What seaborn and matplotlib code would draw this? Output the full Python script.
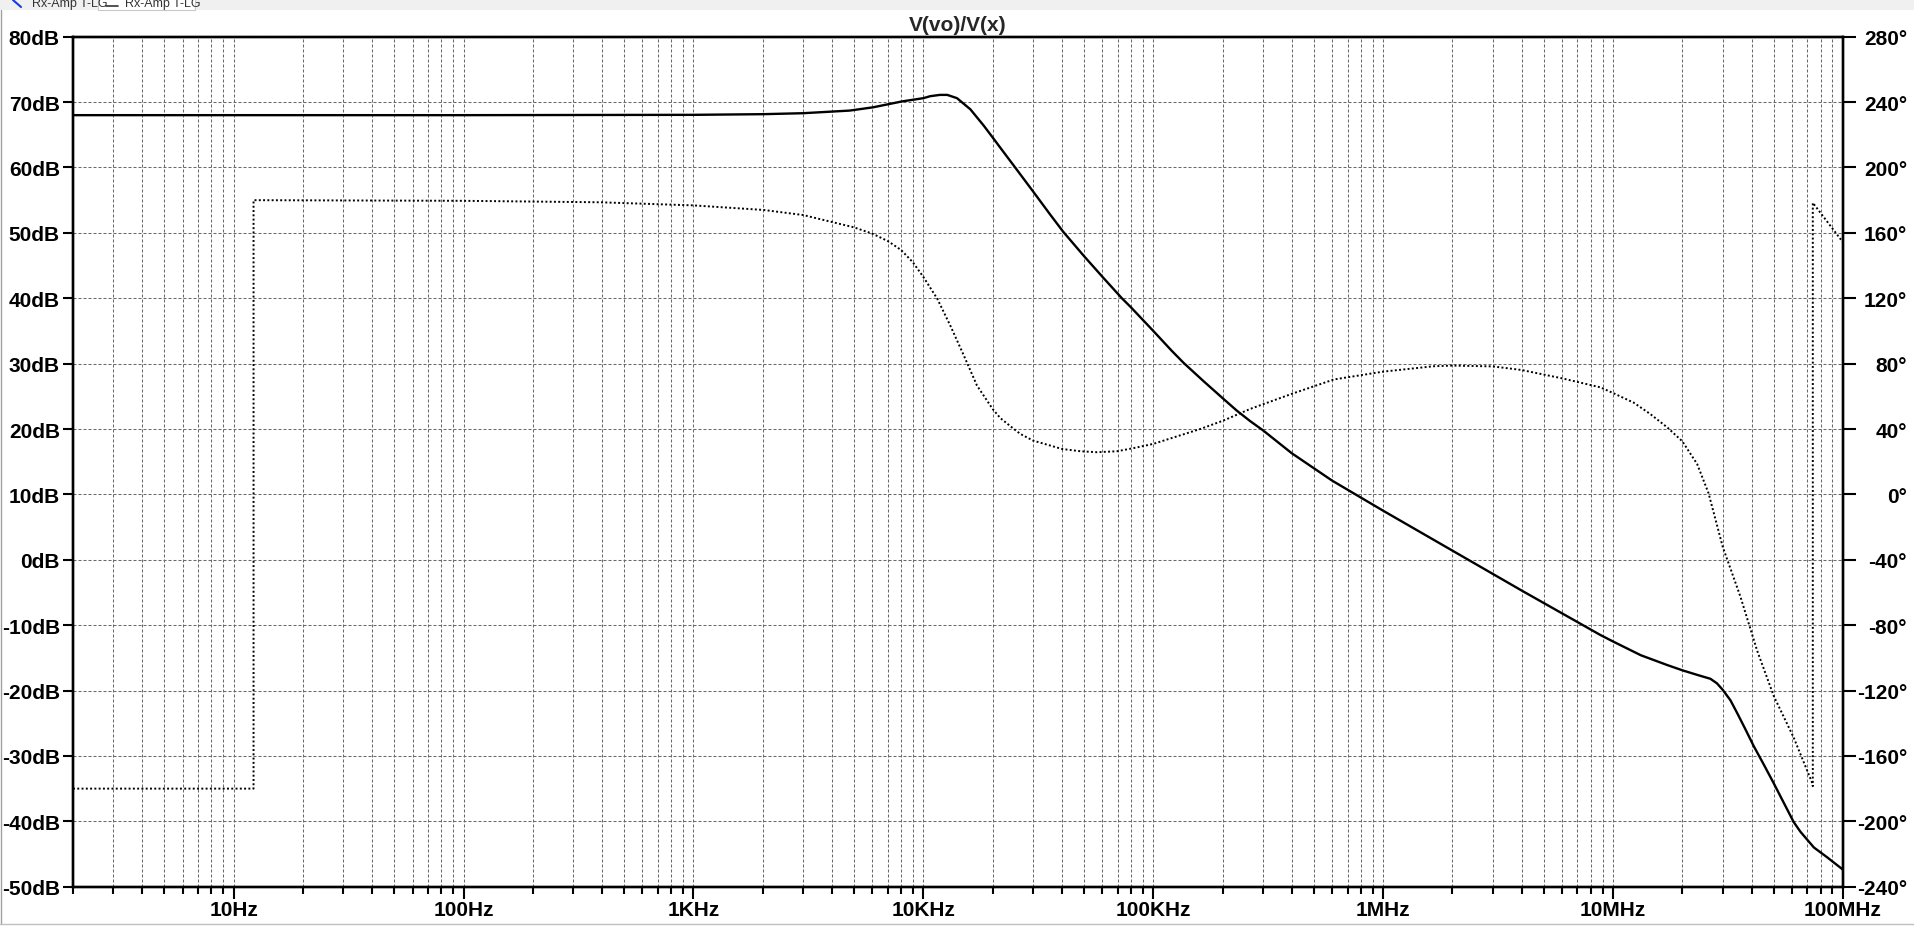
import matplotlib
matplotlib.use('Agg')
import matplotlib.pyplot as plt
import matplotlib.ticker as mticker
import pandas as pd
import seaborn as sns
from matplotlib.patches import Rectangle
from matplotlib.lines import Line2D

# magnitude of V(vo)/V(x)
mag_freq = [2, 100, 1000, 2000, 3000, 4780, 6040, 8070, 10000, 10700, 11800, 12700,
            14000, 16000, 18300, 20000, 22000, 24700, 29900, 35600, 40500, 49800,
            60000, 73000, 80000, 100000, 120000, 135600, 165600, 202000, 231000, 264000,
            300000, 400000, 600000, 1e6, 2e6, 4e6, 8.8e6, 1e7, 1.32e7, 1.72e7, 2e7, 2.32e7,
            2.65e7, 2.83e7, 3e7, 3.24e7, 3.46e7, 3.76e7, 4.09e7, 4.52e7, 5e7, 6.1e7,
            6.53e7, 7.47e7, 8.53e7, 1e8]
mag_db = [68.0, 68.0, 68.05, 68.15, 68.3, 68.7, 69.2, 70.1, 70.6, 70.9, 71.1, 71.1,
          70.6, 68.9, 66.4, 64.6, 62.65, 60.3, 56.4, 52.8, 50.2, 46.5,
          43.3, 40.0, 38.6, 35.0, 32.0, 30.1, 27.3, 24.6, 22.8, 21.2,
          19.8, 16.3, 12.1, 7.5, 1.4, -4.7, -11.5, -12.5, -14.6, -16.1, -16.9, -17.6,
          -18.2, -18.9, -19.9, -21.5, -23.4, -25.9, -28.5, -31.3, -34.2, -40.1,
          -41.6, -44.0, -45.5, -47.4]

# phase (degrees), with the two wrap-around jumps
phase_freq = [2, 12.2, 12.2, 20, 100, 394, 1000, 2020, 3000, 4980, 6000, 7000, 8000,
              9000, 10000, 11500, 13100, 15000, 17100, 20000, 21600, 24200, 26400,
              30000, 35600, 40000, 48200, 57000, 69700, 82000, 100000, 160000,
              202000, 264000, 400000, 610000, 1e6, 1.66e6, 2e6, 3e6, 4e6, 6e6,
              8.8e6, 1e7, 1.23e7, 1.45e7, 1.72e7, 2e7, 2.32e7, 2.6e7, 3e7, 3.58e7,
              4.23e7, 5e7, 6.1e7, 7.35e7, 7.39e7, 7.39e7, 1e8]
phase_deg = [-180, -180, 180, 179.9, 179.6, 178.7, 176.8, 174.0, 170.9, 163.4, 159.5, 155.0, 149.5,
             142.0, 133.0, 119.6, 103.2, 84.9, 66.6, 52.3, 46.7, 41.1, 37.0,
             32.9, 29.9, 27.8, 26.4, 25.8, 26.4, 28.3, 30.9, 40.0,
             45.2, 52.3, 61.5, 70.3, 75.1, 78.4, 78.8, 78.3, 76.1, 71.0,
             65.5, 62.0, 56.1, 49.2, 41.0, 32.5, 18.6, 0.8, -32.2, -62.6,
             -95.5, -123.4, -148.7, -176.6, -178.5, 178.4, 154.2]

xtick_values = [10, 100, 1e3, 1e4, 1e5, 1e6, 1e7, 1e8]
xtick_labels = ['10Hz', '100Hz', '1KHz', '10KHz', '100KHz', '1MHz', '10MHz', '100MHz']
db_ticks = list(range(-50, 81, 10))
deg_ticks = list(range(-240, 281, 40))

df_mag = pd.DataFrame({'freq': mag_freq, 'db': mag_db})
df_phase = pd.DataFrame({'freq': phase_freq, 'deg': phase_deg})

sns.set_theme(style='white')
plt.rcParams['font.family'] = ['Liberation Sans', 'DejaVu Sans']
plt.rcParams['font.weight'] = 'bold'

FS = 15
W, H = 1915, 928
fig = plt.figure(figsize=(W / 100, H / 100), dpi=100)
fig.patch.set_facecolor('white')
ax = fig.add_axes([73 / W, 40.3 / H, 1770 / W, 850 / H])
ax2 = ax.twinx()

ax.set_xscale('log')
ax.set_xlim(2, 1e8)
ax.set_ylim(-50, 80)
ax2.set_ylim(-240, 280)

sns.lineplot(data=df_mag, x='freq', y='db', ax=ax, color='black', linewidth=1.7,
             estimator=None, sort=False)
sns.lineplot(data=df_phase, x='freq', y='deg', ax=ax2, color='black', linewidth=1.4,
             estimator=None, sort=False, linestyle=(0, (1, 1.2)))

# grid
grid_kw = dict(color='#6a6a6a', linewidth=0.75, linestyle=(0, (2.9, 1.9)))
ax.xaxis.set_major_locator(mticker.FixedLocator(xtick_values))
ax.xaxis.set_major_formatter(mticker.FixedFormatter(xtick_labels))
ax.xaxis.set_minor_locator(mticker.LogLocator(base=10, subs=range(2, 10), numticks=20))
ax.xaxis.set_minor_formatter(mticker.NullFormatter())
ax.grid(True, which='both', axis='x', **grid_kw)
ax.grid(True, which='major', axis='y', **grid_kw)
ax.set_axisbelow(True)

ax.yaxis.set_major_locator(mticker.FixedLocator(db_ticks))
ax.set_yticklabels([f'{v}dB' for v in db_ticks])
ax2.yaxis.set_major_locator(mticker.FixedLocator(deg_ticks))
ax2.set_yticklabels([f'{v}°' for v in deg_ticks])

ax.set_xlabel('')
ax.set_ylabel('')
ax2.set_ylabel('')

ax.tick_params(axis='x', which='major', bottom=True, top=False, direction='out', length=8.9,
               width=1.5, pad=1, labelsize=FS, color='black', labelcolor='black')
ax.tick_params(axis='x', which='minor', bottom=True, top=False, direction='out', length=5,
               width=1.5, color='black')
ax.tick_params(axis='y', left=True, right=False, direction='out', length=7.2, width=1.5,
               pad=2.2, labelsize=FS, color='black', labelcolor='black')
ax2.tick_params(axis='y', left=False, right=True, direction='out', length=9.1, width=1.5,
                pad=36.9, labelsize=FS, color='black', labelcolor='black')
for lab in ax2.get_yticklabels():
    lab.set_horizontalalignment('right')
for lab in ax.get_xticklabels() + ax.get_yticklabels() + ax2.get_yticklabels():
    lab.set_fontweight('bold')

for a in (ax, ax2):
    for s in a.spines.values():
        s.set_color('black')
        s.set_linewidth(1.7)

ax.set_title('V(vo)/V(x)', fontsize=FS, fontweight='bold', pad=4.8)

# window chrome: tab strip and borders
fig.patches.append(Rectangle((0, 1 - 11 / H), 1, 11 / H, transform=fig.transFigure,
                             facecolor='#f0f0f0', edgecolor='none', zorder=0))
fig.patches.append(Rectangle((98 / W, 1 - 11 / H), 97 / W, 12 / H, transform=fig.transFigure,
                             facecolor='white', edgecolor='#c8c8c8', linewidth=0.8, zorder=1))
fig.lines.append(Line2D([13 / W, 21 / W], [1 - 1 / H, 1 - 8 / H], transform=fig.transFigure,
                        color='#1a3adf', linewidth=1.5))
fig.lines.append(Line2D([106 / W, 118 / W], [1 - 7 / H, 1 - 7 / H], transform=fig.transFigure,
                        color='#333333', linewidth=1.2))
fig.text(32 / W, 1 - 7 / H, 'Rx-Amp T-LG', fontsize=9, fontweight='normal', va='baseline',
         color='#333333', family=['Liberation Sans', 'DejaVu Sans'])
fig.text(125 / W, 1 - 7 / H, 'Rx-Amp T-LG', fontsize=9, fontweight='normal', va='baseline',
         color='#333333', family=['Liberation Sans', 'DejaVu Sans'])
fig.lines.append(Line2D([1.5 / W, 1.5 / W], [3 / H, 1 - 11 / H], transform=fig.transFigure,
                        color='#a0a0a0', linewidth=1))
fig.lines.append(Line2D([0, 1], [3 / H, 3 / H], transform=fig.transFigure,
                        color='#c0c0c0', linewidth=1))

plt.savefig('out.png', dpi=100)
